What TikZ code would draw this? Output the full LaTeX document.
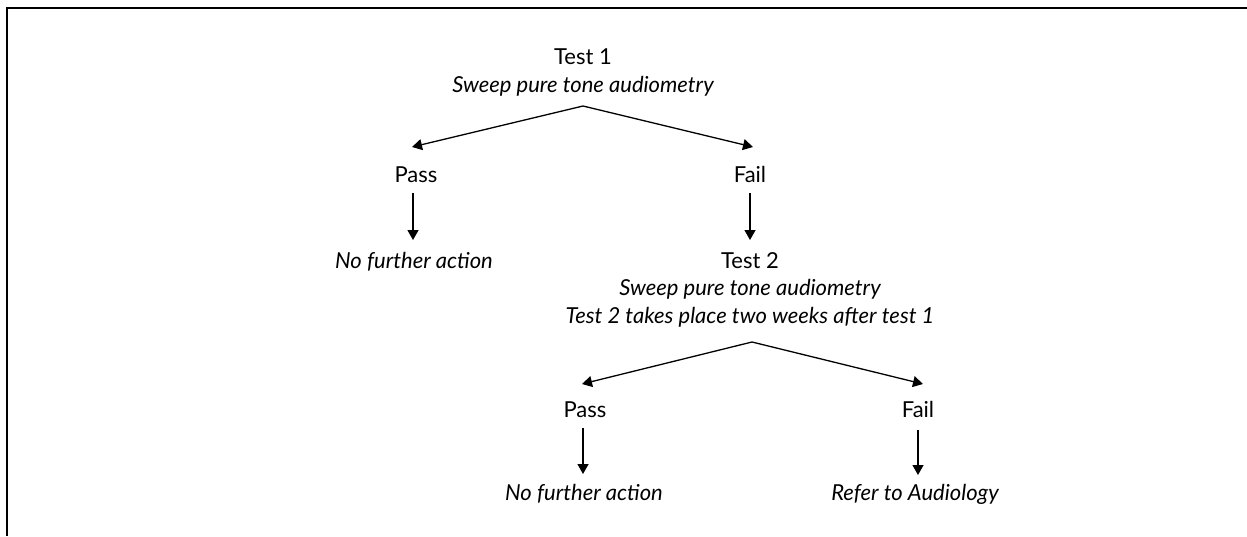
\documentclass[tikz,border=0pt]{standalone}
\usepackage{fontspec}
\setmainfont{Lato}
\usetikzlibrary{arrows.meta,calc}

\begin{document}
\begin{tikzpicture}[
  x=0.5pt, y=-0.5pt,
  every node/.style={inner sep=0pt, anchor=base, font=\fontsize{11}{13}\selectfont},
  sub/.style={font=\fontsize{11}{13}\selectfont\itshape},
  arr/.style={line width=0.65pt, -{Triangle[length=5pt,width=5.5pt]}},
  frame/.style={line width=0.8pt}
]
\useasboundingbox (0,0) rectangle (1247,536);
% cropped frame: top and left edges
\draw[frame] (1247,8) -- (7,8) -- (7,536);

% first test
\node (t1)  at (583,64)  {Test 1};
\node[sub] (t1s) at (583,92) {Sweep pure tone audiometry};
\node (p1)  at (416,182) {Pass};
\node (f1)  at (750,182) {Fail};
\node[sub] (n1) at (414,268) {No further action};

% second test
\node (t2)  at (750,268) {Test 2};
\node[sub] (t2s) at (750,295) {Sweep pure tone audiometry};
\node[sub] (t2b) at (750,323) {Test 2 takes place two weeks after test 1};
\node (p2)  at (585,417) {Pass};
\node (f2)  at (918,417) {Fail};
\node[sub] (n2) at (584,500) {No further action};
\node[sub] (r2) at (915,500) {Refer to Audiology};

% branches of test 1
\coordinate (a1)  at ($(t1s.base)+(0,14)$);
\coordinate (a1l) at ($(p1.base)+(-4,-35)$);
\coordinate (a1r) at ($(f1.base)+(3,-35)$);
\draw[arr] (a1) -- (a1l);
\draw[arr] (a1) -- (a1r);
\draw[arr] ($(p1.base)+(-3,11)$) -- ($(n1.base)+(-1,-28)$);
\draw[arr] ($(f1.base)+(0,11)$) -- ($(t2.base)+(0,-28)$);

% branches of test 2
\coordinate (a2)  at ($(t2b.base)+(2,19)$);
\coordinate (a2l) at ($(p2.base)+(-3,-33)$);
\coordinate (a2r) at ($(f2.base)+(5,-33)$);
\draw[arr] (a2) -- (a2l);
\draw[arr] (a2) -- (a2r);
\draw[arr] ($(p2.base)+(-2,11)$) -- ($(n2.base)+(-1,-26)$);
\draw[arr] ($(f2.base)+(0,13)$) -- ($(r2.base)+(3,-25)$);
\end{tikzpicture}
\end{document}
